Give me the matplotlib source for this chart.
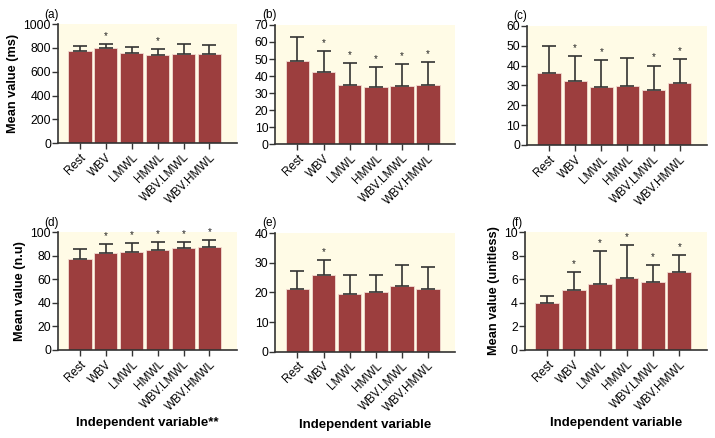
import numpy as np
import matplotlib.pyplot as plt

plt.rcParams['font.family'] = ['Liberation Sans', 'DejaVu Sans']

groups = ["Rest", "WBV", "LMWL", "HMWL", "WBV.LMWL", "WBV.HMWL"]

# panel (a) - (f): bar means, upper error bar ends, significance flags
mean_a = [770, 800, 755, 740, 750, 750]
top_a = [815, 835, 810, 790, 835, 825]
star_a = [0, 1, 0, 1, 0, 0]

mean_b = [49, 42.5, 34.5, 33.5, 34, 35]
top_b = [63, 54.5, 47.5, 45.5, 47, 48]
star_b = [0, 1, 1, 1, 1, 1]

mean_c = [36.5, 32, 29, 29.5, 27.5, 31]
top_c = [50, 45, 43, 44, 40, 43.5]
star_c = [0, 1, 1, 0, 1, 1]

mean_d = [77.5, 82, 83.5, 84.5, 86.5, 87.5]
top_d = [86, 90, 91, 92, 92, 93]
star_d = [0, 1, 1, 1, 1, 1]

mean_e = [21, 26, 19.5, 20, 22, 21]
top_e = [27.3, 30.8, 25.8, 26, 29.3, 28.5]
star_e = [0, 1, 0, 0, 0, 0]

mean_f = [4, 5.1, 5.6, 6.1, 5.8, 6.6]
top_f = [4.6, 6.6, 8.4, 8.9, 7.2, 8.1]
star_f = [0, 1, 1, 1, 1, 1]

panels = [
    ("(a)", mean_a, top_a, star_a, 1000, 200, "Mean value (ms)", None),
    ("(b)", mean_b, top_b, star_b, 70, 10, None, None),
    ("(c)", mean_c, top_c, star_c, 60, 10, None, None),
    ("(d)", mean_d, top_d, star_d, 100, 20, "Mean value (n.u)", "Independent variable**"),
    ("(e)", mean_e, top_e, star_e, 40, 10, None, "Independent variable"),
    ("(f)", mean_f, top_f, star_f, 10, 2, "Mean value (unitless)", "Independent variable"),
]

rects = [
    [0.081, 0.673, 0.250, 0.272],
    [0.385, 0.671, 0.252, 0.272],
    [0.737, 0.669, 0.252, 0.272],
    [0.081, 0.201, 0.250, 0.269],
    [0.385, 0.197, 0.252, 0.271],
    [0.734, 0.201, 0.255, 0.269],
]

bar_color = "#9c3e3e"
bg_color = "#fffbe6"
line_color = "#333333"

fig = plt.figure(figsize=(7.15, 4.38), dpi=100)

for rect, (tag, means, tops, stars, ymax, ystep, ylab, xlab) in zip(rects, panels):
    ax = fig.add_axes(rect)
    ax.set_facecolor(bg_color)
    x = np.arange(len(groups))
    means = np.array(means)
    err = np.array(tops) - means
    ax.bar(x, means, width=0.9, color=bar_color, edgecolor="#f2dcd2", linewidth=0.6, zorder=2)
    ax.errorbar(x, means, yerr=[np.zeros_like(err), err], fmt="none", ecolor=line_color,
                elinewidth=1.2, capsize=5, capthick=1.2, zorder=3)
    for xi, t, s in zip(x, tops, stars):
        if s:
            ax.text(xi, t + ymax * 0.025, "*", ha="center", va="bottom", fontsize=7, color="#222222")
    ax.set_xlim(-0.85, 6.05)
    ax.set_ylim(0, ymax)
    ax.set_yticks(np.arange(0, ymax + ystep / 2, ystep))
    ax.set_xticks(x)
    ax.set_xticklabels(groups, rotation=45, ha="right", rotation_mode="anchor", fontsize=8.5)
    ax.tick_params(axis="y", labelsize=8.8, length=4, width=1, color=line_color, pad=1)
    ax.tick_params(axis="x", length=4, width=1, color=line_color, pad=2)
    for side in ["top", "right"]:
        ax.spines[side].set_visible(False)
    for side in ["left", "bottom"]:
        ax.spines[side].set_color(line_color)
        ax.spines[side].set_linewidth(1.2)
    ax.text(-0.075, 1.03, tag, transform=ax.transAxes, fontsize=8.5, ha="left", va="bottom")
    if ylab:
        ax.set_ylabel(ylab, fontsize=9.2, fontweight="bold", labelpad=3)
    if xlab:
        ax.set_xlabel(xlab, fontsize=9.5, fontweight="bold", labelpad=3)

fig.savefig("out.png", dpi=100)
